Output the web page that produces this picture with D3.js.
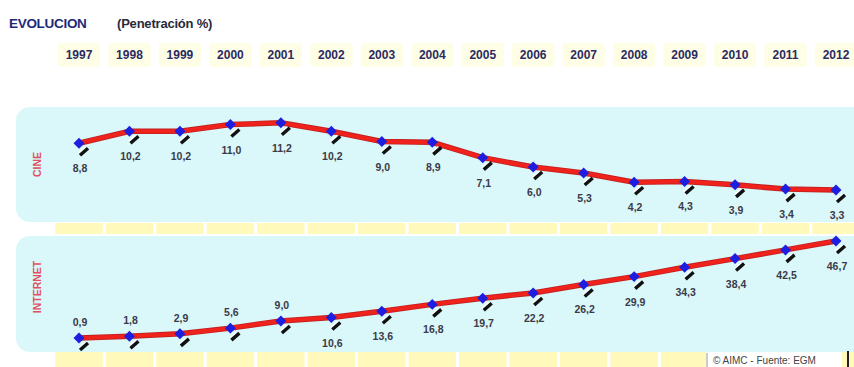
<!DOCTYPE html>
<html>
<head>
<meta charset="utf-8">
<script src="https://cdn.jsdelivr.net/npm/d3@7"></script>
<style>
  body { margin: 0; background: #fff; }
  svg { display: block; font-family: "Liberation Sans", Arial, sans-serif; }
</style>
</head>
<body>
<svg id="chart" width="854" height="367"></svg>
<script>
// Penetración % por año — CINE e INTERNET (AIMC / EGM)
const YEARS = ["1997", "1998", "1999", "2000", "2001", "2002", "2003", "2004",
               "2005", "2006", "2007", "2008", "2009", "2010", "2011", "2012"];
const CINE = [8.8, 10.2, 10.2, 11.0, 11.2, 10.2, 9.0, 8.9, 7.1, 6.0, 5.3, 4.2, 4.3, 3.9, 3.4, 3.3];
const INTERNET = [0.9, 1.8, 2.9, 5.6, 9.0, 10.6, 13.6, 16.8, 19.7, 22.2, 26.2, 29.9, 34.3, 38.4, 42.5, 46.7];
// first internet values get their label above the point
const INTERNET_ABOVE = ["1997", "1998", "1999", "2000", "2001"];

const W = 854, H = 367;
const svg = d3.select("#chart");

const x = d3.scalePoint().domain(YEARS).range([79, 836]);
const step = x.step();
const fmt = (v) => d3.format(".1f")(v).replace(".", ",");

// ----- title ---------------------------------------------------------------
svg.append("text").attr("x", 9).attr("y", 28)
  .attr("font-size", 13.5).attr("font-weight", "bold").attr("fill", "#1d2a78")
  .attr("letter-spacing", -0.3)
  .text("EVOLUCION");
svg.append("text").attr("x", 117).attr("y", 28)
  .attr("font-size", 13).attr("font-weight", "bold").attr("fill", "#2a2a3a")
  .attr("letter-spacing", -0.2)
  .text("(Penetración %)");

// ----- year header boxes ---------------------------------------------------
svg.append("g").selectAll("rect").data(YEARS).join("rect")
  .attr("x", (d) => x(d) - step / 2 + 4).attr("y", 43)
  .attr("width", step - 8).attr("height", 24).attr("rx", 4)
  .attr("fill", "#fefde6");

svg.append("g").selectAll("text").data(YEARS).join("text")
  .attr("x", (d) => x(d)).attr("y", 59)
  .attr("text-anchor", "middle")
  .attr("font-size", 12).attr("font-weight", "bold").attr("fill", "#2b2b62")
  .text((d) => d);

// yellow strips under each panel
[[223, 11], [352, 15]].forEach(([y0, h]) => {
  svg.append("g").selectAll("rect").data(YEARS).join("rect")
    .attr("x", (d) => x(d) - step / 2 + 1.5).attr("y", y0)
    .attr("width", step - 3).attr("height", h)
    .attr("fill", "#fff9bc");
});

// ----- panels ----------------------------------------------------------------
const panels = [
  { name: "CINE", values: CINE, top: 107, h: 115, domain: [0, 12], range: [218, 116],
    above: () => false },
  { name: "INTERNET", values: INTERNET, top: 236, h: 116, domain: [0, 50], range: [340, 234],
    above: (d) => INTERNET_ABOVE.includes(d.year) },
];

panels.forEach((p) => {
  const y = d3.scaleLinear().domain(p.domain).range(p.range);
  const data = YEARS.map((yr, i) => ({ year: yr, v: p.values[i] }));
  const g = svg.append("g");

  g.append("rect").attr("x", 16).attr("y", p.top)
    .attr("width", W).attr("height", p.h).attr("rx", 14)
    .attr("fill", "#daf7f9");

  g.append("text")
    .attr("transform", `translate(41,${p.top + p.h / 2 + (p.name === "CINE" ? 0 : -7)}) rotate(-90)`)
    .attr("text-anchor", "middle")
    .attr("font-size", 10.5).attr("font-weight", "bold").attr("fill", "#e0505e")
    .text(p.name);

  // red line with darker edge
  const line = d3.line().x((d) => x(d.year)).y((d) => y(d.v));
  g.append("path").datum(data).attr("d", line)
    .attr("fill", "none").attr("stroke", "#c02020").attr("stroke-width", 5.5);
  g.append("path").datum(data).attr("d", line)
    .attr("fill", "none").attr("stroke", "#f0221c").attr("stroke-width", 3.8);

  // black "shadow" stroke under each marker
  g.append("g").selectAll("line").data(data).join("line")
    .attr("x1", (d) => x(d.year) + 1).attr("y1", (d) => y(d.v) + 12)
    .attr("x2", (d) => x(d.year) + 9).attr("y2", (d) => y(d.v) + 5)
    .attr("stroke", "#111").attr("stroke-width", 3.4);
  g.append("g").selectAll("line").data(data).join("line")
    .attr("x1", (d) => x(d.year) - 1).attr("y1", (d) => y(d.v) + 10)
    .attr("x2", (d) => x(d.year) + 6).attr("y2", (d) => y(d.v) + 4)
    .attr("stroke", "#fff").attr("stroke-width", 1.2);

  // blue diamonds
  g.append("g").selectAll("path").data(data).join("path")
    .attr("d", d3.symbol(d3.symbolSquare, 60)())
    .attr("transform", (d) => `translate(${x(d.year)},${y(d.v)}) rotate(45)`)
    .attr("fill", "#1c1ee0");

  // value labels
  g.append("g").selectAll("text").data(data).join("text")
    .attr("x", (d) => x(d.year) + 1)
    .attr("y", (d) => p.above(d) ? y(d.v) - 12 : y(d.v) + 29)
    .attr("text-anchor", "middle")
    .attr("font-size", 10.5).attr("font-weight", "bold").attr("fill", "#3a3a48")
    .text((d) => fmt(d.v));
});

// ----- source note ----------------------------------------------------------
svg.append("rect").attr("x", 706).attr("y", 352).attr("width", 136).attr("height", 15)
  .attr("fill", "#fff");
svg.append("line").attr("x1", 707).attr("x2", 707).attr("y1", 353).attr("y2", 367)
  .attr("stroke", "#999").attr("stroke-width", 1);
svg.append("line").attr("x1", 848).attr("x2", 848).attr("y1", 351).attr("y2", 367)
  .attr("stroke", "#222").attr("stroke-width", 2);
svg.append("text").attr("x", 713).attr("y", 364)
  .attr("font-size", 10).attr("fill", "#444")
  .text("© AIMC - Fuente: EGM");
</script>
</body>
</html>
